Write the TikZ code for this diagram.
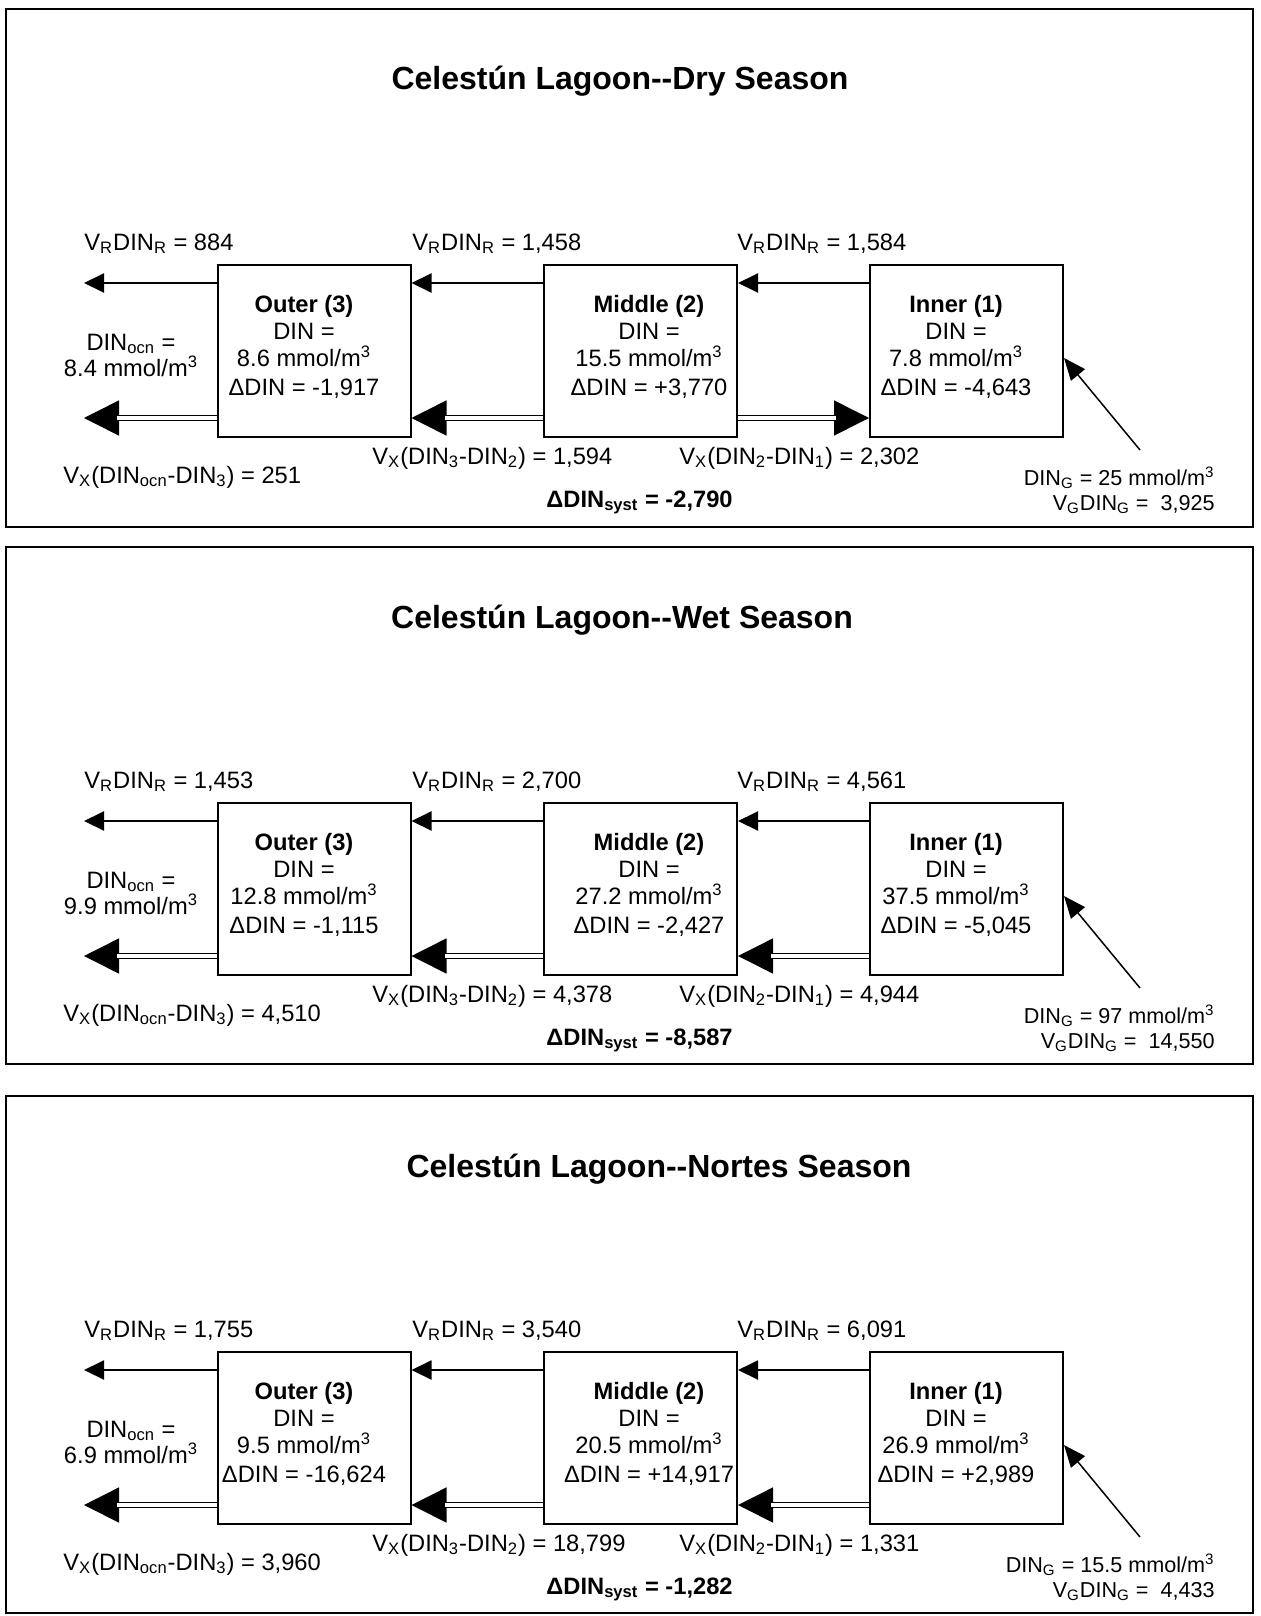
\documentclass[tikz,border=0pt]{standalone}
\usepackage{fontspec}
\setmainfont{Liberation Sans}
\usetikzlibrary{arrows.meta}
\newcommand\boxtext[5]{%
  \node[txt, anchor=base] (#1a) at (#2,303) {\textbf{#3}};
  \node[txt, anchor=base] (#1b) at (#2,330) {DIN =};
  \node[txt, anchor=base] (#1c) at (#2,357.5) {#4 mmol/m\textsuperscript{3}};
  \node[txt, anchor=base] (#1d) at (#2,386) {ΔDIN = #5};
}
\newcommand\drawpanel[2]{%
\begin{scope}[name prefix=#1-, shift={(0,#2)}]
  \draw[frame] (6,0) rectangle (1253,\pH);
  \node[ttl, anchor=base] (title) at (\pTx,81) {Celestún Lagoon-\kern0pt-\pName\ Season};
  \node[compbox] (O) at (314,342) {};
  \node[compbox] (M) at (640.5,342) {};
  \node[compbox] (I) at (966.5,342) {};
  \boxtext{o}{304}{Outer (3)}{\pDo}{\pdDo}
  \boxtext{m}{649}{Middle (2)}{\pDm}{\pdDm}
  \boxtext{i}{956}{Inner (1)}{\pDi}{\pdDi}
  \coordinate (yT) at (0,274);
  \coordinate (yX) at (0,409);
  \coordinate (yG) at (0,349);
  \coordinate (seaT) at (84,274);
  \coordinate (seaX) at (84,409);
  \coordinate (gsrc) at (1140,441);
  \coordinate (mXe) at (M.east |- yX);
  \coordinate (iXw) at (I.west |- yX);
  \draw[flow] (O.west |- yT) -- (seaT);
  \draw[flow] (M.west |- yT) -- (O.east |- yT);
  \draw[flow] (I.west |- yT) -- (M.east |- yT);
  \draw[bigtip] (O.west |- yX) -- (seaX);
  \draw[dbl] (O.west |- yX) -- (seaX);
  \draw[bigtip] (M.west |- yX) -- (O.east |- yX);
  \draw[dbl] (M.west |- yX) -- (O.east |- yX);
  \draw[bigtip] (\pXfrom) -- (\pXto);
  \draw[dbl] (\pXfrom) -- (\pXto);
  \draw[gw] (gsrc) -- (I.east |- yG);
  \node[txt, anchor=base west] (vr3) at (84,241) {V\textsubscript{R}DIN\textsubscript{R} = \pVRa};
  \node[txt, anchor=base west] (vr2) at (412,241) {V\textsubscript{R}DIN\textsubscript{R} = \pVRb};
  \node[txt, anchor=base west] (vr1) at (737,241) {V\textsubscript{R}DIN\textsubscript{R} = \pVRc};
  \node[txt, anchor=base] (ocna) at (131,341) {DIN\textsubscript{ocn} =};
  \node[txt, anchor=base] (ocnb) at (131,367) {\pOcn\ mmol/m\textsuperscript{3}};
  \node[txt, anchor=base west] (vxo) at (63,474) {V\textsubscript{X}(DIN\textsubscript{ocn}-DIN\textsubscript{3}) = \pVXo};
  \node[txt, anchor=base west] (vxb) at (372,455) {V\textsubscript{X}(DIN\textsubscript{3}-DIN\textsubscript{2}) = \pVXb};
  \node[txt, anchor=base west] (vxc) at (679,455) {V\textsubscript{X}(DIN\textsubscript{2}-DIN\textsubscript{1}) = \pVXc};
  \node[txt, anchor=base west, font=\fontsize{11.85}{13.85}\selectfont\bfseries] (syst) at (546,498) {ΔDIN\textsubscript{syst} = \pSyst};
  \node[small, anchor=base east] (dg) at (1215,476) {DIN\textsubscript{G} = \pDG\ mmol/m\textsuperscript{3}};
  \node[small, anchor=base east] (vg) at (1215,501) {V\textsubscript{G}DIN\textsubscript{G} =\ \ \pVG};
\end{scope}}
\begin{document}
\begin{tikzpicture}[
  x=0.5pt, y=-0.5pt,
  frame/.style={draw, line width=1.1pt},
  compbox/.style={draw, line width=1pt, minimum width=96.5pt, minimum height=86pt, inner sep=0pt},
  txt/.style={inner sep=0pt, font=\fontsize{11.85}{13.85}\selectfont},
  small/.style={inner sep=0pt, font=\fontsize{10.8}{12.5}\selectfont},
  ttl/.style={inner sep=0pt, font=\fontsize{16}{19}\selectfont\bfseries},
  flow/.style={line width=1pt, -{Triangle[length=10pt,width=9.5pt]}},
  bigtip/.style={line width=0.75pt, -{Triangle[length=17.5pt,width=17.5pt]}},
  dbl/.style={line width=0.75pt, double, double distance=1.6pt, shorten >=16.5pt},
  gw/.style={line width=0.75pt, -{Triangle[length=11pt,width=9pt]}}
]
\useasboundingbox (0,0) rectangle (1261,1616);
% Dry season
\def\pH{518}\def\pTx{620}\def\pName{Dry}
\def\pVRa{884}\def\pVRb{1,458}\def\pVRc{1,584}
\def\pOcn{8.4}
\def\pDo{8.6}\def\pdDo{-1,917}
\def\pDm{15.5}\def\pdDm{+3,770}
\def\pDi{7.8}\def\pdDi{-4,643}
\def\pVXo{251}\def\pVXb{1,594}\def\pVXc{2,302}
\def\pXfrom{mXe}\def\pXto{iXw}
\def\pSyst{-2,790}\def\pDG{25}\def\pVG{3,925}
\drawpanel{p1}{9}
% Wet season
\def\pH{517}\def\pTx{622}\def\pName{Wet}
\def\pVRa{1,453}\def\pVRb{2,700}\def\pVRc{4,561}
\def\pOcn{9.9}
\def\pDo{12.8}\def\pdDo{-1,115}
\def\pDm{27.2}\def\pdDm{-2,427}
\def\pDi{37.5}\def\pdDi{-5,045}
\def\pVXo{4,510}\def\pVXb{4,378}\def\pVXc{4,944}
\def\pXfrom{iXw}\def\pXto{mXe}
\def\pSyst{-8,587}\def\pDG{97}\def\pVG{14,550}
\drawpanel{p2}{547}
% Nortes season
\def\pH{517}\def\pTx{659}\def\pName{Nortes}
\def\pVRa{1,755}\def\pVRb{3,540}\def\pVRc{6,091}
\def\pOcn{6.9}
\def\pDo{9.5}\def\pdDo{-16,624}
\def\pDm{20.5}\def\pdDm{+14,917}
\def\pDi{26.9}\def\pdDi{+2,989}
\def\pVXo{3,960}\def\pVXb{18,799}\def\pVXc{1,331}
\def\pXfrom{iXw}\def\pXto{mXe}
\def\pSyst{-1,282}\def\pDG{15.5}\def\pVG{4,433}
\drawpanel{p3}{1096}
\end{tikzpicture}
\end{document}
